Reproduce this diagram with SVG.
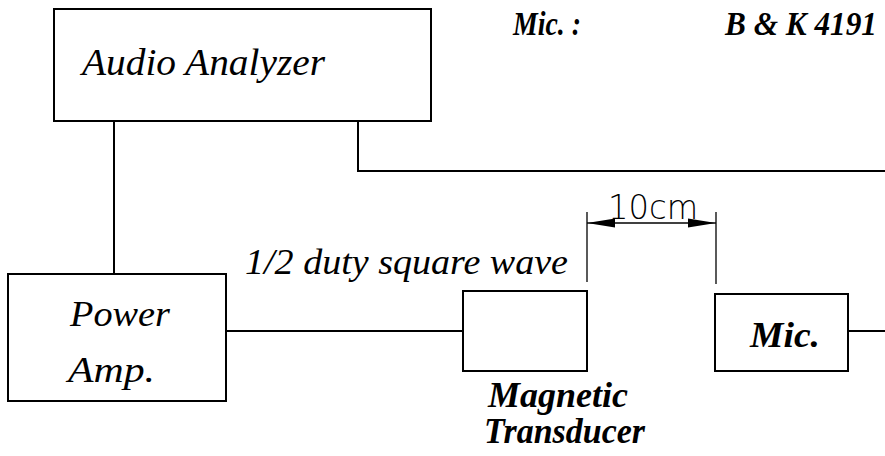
<svg xmlns="http://www.w3.org/2000/svg" width="885" height="456" viewBox="0 0 885 456">
<style>
.box{fill:#fff;stroke:#000;stroke-width:2}
.ln{fill:none;stroke:#000;stroke-width:2}
.thin{fill:none;stroke:#000;stroke-width:1.3}
.t{font-family:'Liberation Serif','Times New Roman',serif;font-style:italic;fill:#000}
.b{font-weight:bold}
.dim{font-family:'DejaVu Sans','Liberation Sans',sans-serif;font-weight:200;fill:#000}
</style>
<defs>
<marker id="ah" viewBox="0 0 28 10" refX="28" refY="5" markerWidth="28" markerHeight="10" markerUnits="userSpaceOnUse" orient="auto-start-reverse">
<path d="M0,0.5 L28,5 L0,9.5 Z" fill="#000"/>
</marker>
</defs>
<rect width="885" height="456" fill="#fff"/>
<text class="t b" x="513" y="35" font-size="33" textLength="68" lengthAdjust="spacingAndGlyphs">Mic. :</text>
<text class="t b" x="725" y="35" font-size="33" textLength="152" lengthAdjust="spacingAndGlyphs">B &amp; K 4191</text>
<g id="connectors">
<polyline class="ln" points="114,121 114,274"/>
<polyline class="ln" points="358,121 358,171 885,171"/>
<polyline class="ln" points="226,331 463,331"/>
<polyline class="ln" points="848,331 885,331"/>
</g>
<g id="dimension">
<line class="thin" x1="587" y1="212" x2="587" y2="282"/>
<line class="thin" x1="716" y1="212" x2="716" y2="284"/>
<line class="thin" x1="600" y1="223" x2="703" y2="223"/>
<line class="thin" x1="601" y1="223" x2="587" y2="223" marker-end="url(#ah)"/>
<line class="thin" x1="702" y1="223" x2="716" y2="223" marker-end="url(#ah)"/>
<text class="dim" x="608" y="219" font-size="33" textLength="90" lengthAdjust="spacingAndGlyphs">10cm</text>
</g>
<g id="audio-analyzer">
<rect class="box" x="54" y="9" width="377" height="112"/>
<text class="t" x="82" y="75" font-size="38" textLength="243" lengthAdjust="spacingAndGlyphs">Audio Analyzer</text>
</g>
<g id="power-amp">
<rect class="box" x="8" y="274" width="218" height="127"/>
<text class="t" x="70" y="326" font-size="36" textLength="100" lengthAdjust="spacingAndGlyphs">Power</text>
<text class="t" x="68" y="382" font-size="36" textLength="87" lengthAdjust="spacingAndGlyphs">Amp.</text>
</g>
<text class="t" x="245" y="274" font-size="35" textLength="323" lengthAdjust="spacingAndGlyphs">1/2 duty square wave</text>
<g id="magnetic-transducer">
<rect class="box" x="463" y="291" width="124" height="80"/>
<text class="t b" x="488" y="407" font-size="35" textLength="140" lengthAdjust="spacingAndGlyphs">Magnetic</text>
<text class="t b" x="484" y="443" font-size="35" textLength="161" lengthAdjust="spacingAndGlyphs">Transducer</text>
</g>
<g id="mic">
<rect class="box" x="715" y="294" width="133" height="77"/>
<text class="t b" x="750" y="347" font-size="36" textLength="70" lengthAdjust="spacingAndGlyphs">Mic.</text>
</g>
</svg>
